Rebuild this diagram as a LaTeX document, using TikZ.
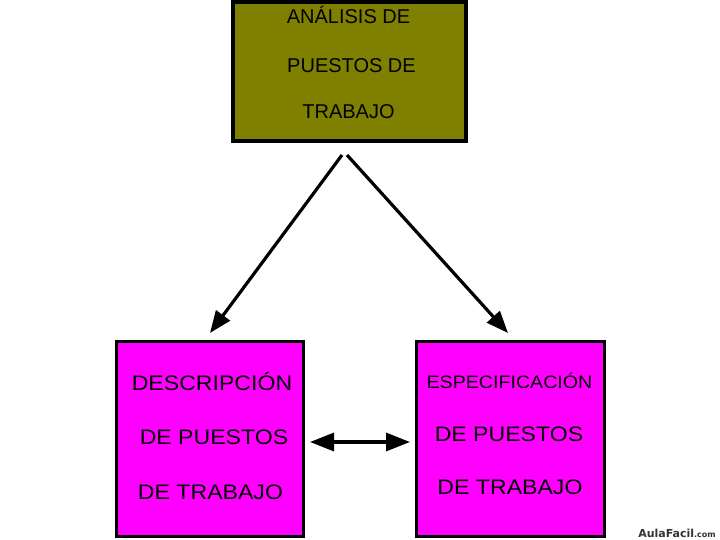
\documentclass[tikz,border=0pt]{standalone}
\usepackage{fontspec}
\setmainfont{Liberation Sans}
\newfontfamily\marcafont{DejaVu Sans}
\usepackage{graphicx}
\usetikzlibrary{arrows.meta}
\usetikzlibrary{positioning}

\definecolor{oliva}{HTML}{808000}
\definecolor{rosa}{HTML}{FF00FF}
\definecolor{marcagris}{HTML}{333333}

\tikzset{
  caja/.style={draw=black, line width=3.5pt, inner sep=0pt},
  linea/.style={inner sep=0pt, anchor=base, text=black},
  grande/.style={linea, font=\fontsize{21}{21}\selectfont},
  media/.style={linea, font=\fontsize{20}{20}\selectfont},
  chica/.style={linea, font=\fontsize{18}{18}\selectfont},
  flecha/.style={line width=3.2pt, -{Triangle[length=22pt,width=17pt]}},
  doble/.style={line width=3.2pt, {Triangle[length=24pt,width=18pt]}-{Triangle[length=24pt,width=18pt]}},
}

\begin{document}
\begin{tikzpicture}[x=1pt,y=-1pt]
    \useasboundingbox (0,0) rectangle (720,540);
    % cajas
    \node[caja, fill=oliva, minimum width=233pt, minimum height=139pt] (analisis) at (349.5,71.5) {};
    \node[caja, fill=rosa, minimum width=187pt, minimum height=195pt] (descripcion) at (210,439) {};
    \node[caja, fill=rosa, minimum width=188pt, minimum height=195pt] (especificacion) at (510.5,439) {};
    % textos
    \node[media] (an1) at (348.5,24) {ANÁLISIS DE};
    \node[media] (an2) at (351.5,73) {PUESTOS DE};
    \node[media] (an3) at (348.5,119) {TRABAJO};
    \node[grande] (de1) at (212,390) {\scalebox{1.1}[1]{DESCRIPCIÓN}};
    \node[grande] (de2) at (214,444) {\scalebox{1.1}[1]{DE PUESTOS}};
    \node[grande] (de3) at (210.5,499) {\scalebox{1.1}[1]{DE TRABAJO}};
    \node[chica] (es1) at (509.5,388) {\scalebox{1.09}[1]{ESPECIFICACIÓN}};
    \node[grande] (es2) at (509,441) {\scalebox{1.1}[1]{DE PUESTOS}};
    \node[grande] (es3) at (510,494) {\scalebox{1.1}[1]{DE TRABAJO}};
    % flechas
    \coordinate (salidaIzq) at (342,155);
    \coordinate (salidaDer) at (347,155);
    \coordinate (puntaIzq) at (210,333);
    \coordinate (puntaDer) at (508,333);
    \coordinate (dobleIzq) at (310,442);
    \coordinate (dobleDer) at (410,442);
    \draw[flecha] (salidaIzq) -- (puntaIzq);
    \draw[flecha] (salidaDer) -- (puntaDer);
    \draw[doble] (dobleIzq) -- (dobleDer);
    % marca
    \node[anchor=base east, inner sep=0pt, text=marcagris] (marca) at (716,537)
        {\marcafont\bfseries\fontsize{11}{11}\selectfont AulaFacil{\fontsize{8}{8}\selectfont .com}};
\end{tikzpicture}
\end{document}
